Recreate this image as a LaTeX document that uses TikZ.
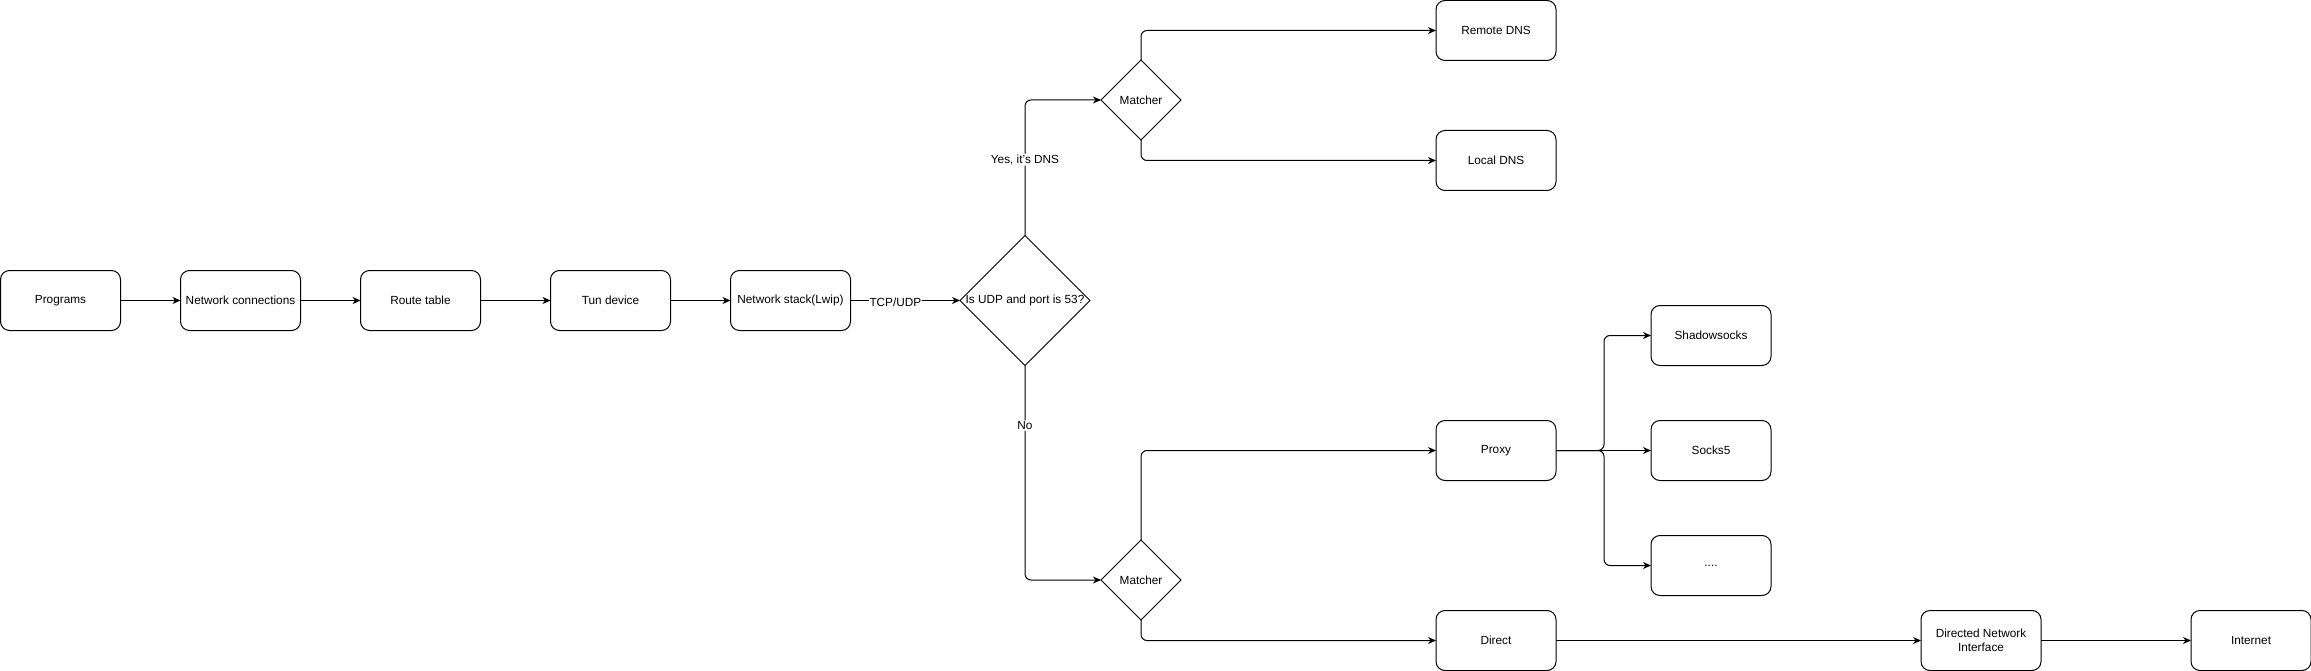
\documentclass[tikz,border=0pt]{standalone}
\usepackage{fontspec}
\setmainfont{Liberation Sans}
\usetikzlibrary{arrows.meta,shapes.geometric}

\begin{document}
\begin{tikzpicture}[x=1pt, y=-1pt, >={Stealth[length=8pt,width=7pt,inset=2.5pt]},
    font=\fontsize{11.8}{14}\selectfont,
    box/.style={draw, rounded corners=9pt, line width=1pt, minimum width=120pt, minimum height=60pt, inner sep=0pt, outer sep=0pt, align=center},
    test/.style={draw, diamond, aspect=1, line width=1pt, inner sep=-4pt, outer sep=0pt},
    link/.style={->, line width=1pt, rounded corners=6pt},
    tag/.style={fill=white, inner sep=1pt}]
    \useasboundingbox (0, 0) rectangle (2311, 671);
    \node[box] (prog) at (60.5, 300.5) {Programs};
    \node[box] (conn) at (240.5, 300.5) {Network connections};
    \node[box] (route) at (420.5, 300.5) {Route table};
    \node[box] (tun) at (610.5, 300.5) {Tun device};
    \node[box] (stack) at (790.5, 300.5) {Network stack(Lwip)};
    \node[test, minimum size=130pt] (isdns) at (1025, 300.5) {Is UDP and port is 53?};
    \node[test, minimum size=80pt] (mdns) at (1141, 100) {Matcher};
    \node[test, minimum size=80pt] (mrule) at (1141, 580) {Matcher};
    \node[box] (remote) at (1496, 30.5) {Remote DNS};
    \node[box] (local) at (1496, 160.5) {Local DNS};
    \node[box] (proxy) at (1496, 450.5) {Proxy};
    \node[box] (direct) at (1496, 640.5) {Direct};
    \node[box] (ss) at (1711, 335.5) {Shadowsocks};
    \node[box] (socks) at (1711, 450.5) {Socks5};
    \node[box] (more) at (1711, 565.5) {....};
    \node[box] (iface) at (1981, 640.5) {Directed Network\\Interface};
    \node[box] (inet) at (2251, 640.5) {Internet};
    \coordinate (fan) at (1604, 450.5);

    \draw[link] (prog) -- (conn);
    \draw[link] (conn) -- (route);
    \draw[link] (route) -- (tun);
    \draw[link] (tun) -- (stack);
    \draw[link] (stack) -- (isdns) node[tag, pos=0.41, yshift=-2pt] {TCP/UDP};
    \draw[link] (isdns.north) |- (mdns.west) node[tag, pos=0.28] {Yes, it's DNS};
    \draw[link] (isdns.south) |- (mrule.west) node[tag, pos=0.14] {No};
    \draw[link] (mdns.north) |- (remote.west);
    \draw[link] (mdns.south) |- (local.west);
    \draw[link] (mrule.north) |- (proxy.west);
    \draw[link] (mrule.south) |- (direct.west);
    \draw[link] (proxy.east) -- (fan) |- (ss.west);
    \draw[link] (proxy.east) -- (socks.west);
    \draw[link] (proxy.east) -- (fan) |- (more.west);
    \draw[link] (direct) -- (iface);
    \draw[link] (iface) -- (inet);
\end{tikzpicture}
\end{document}
